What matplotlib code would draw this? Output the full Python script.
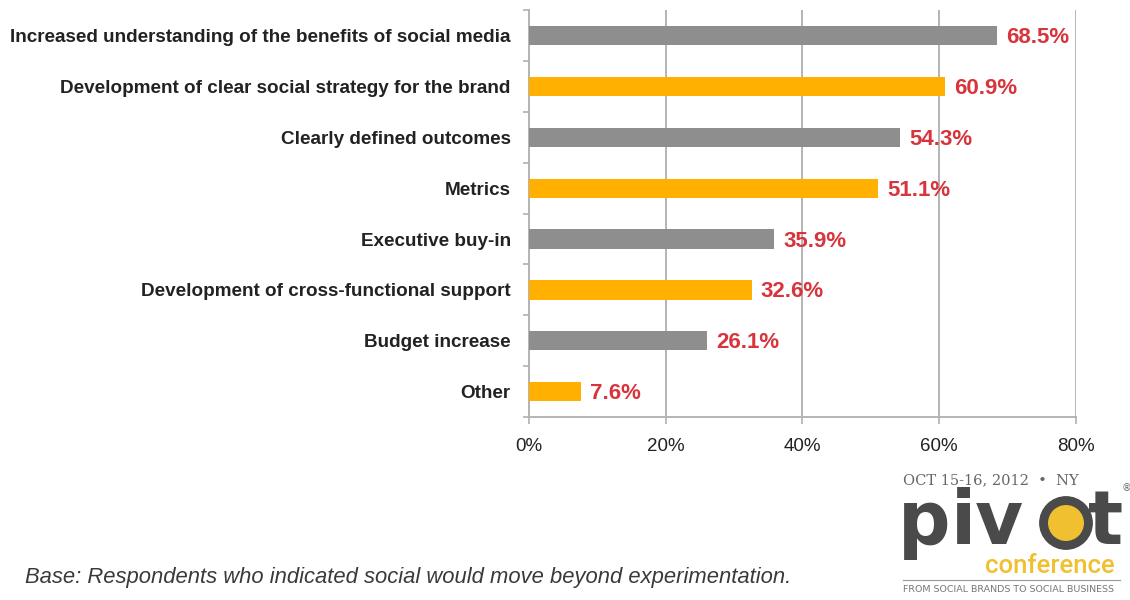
import matplotlib.pyplot as plt
from matplotlib.patches import Circle

categories = [
    "Increased understanding of the benefits of social media",
    "Development of clear social strategy for the brand",
    "Clearly defined outcomes",
    "Metrics",
    "Executive buy-in",
    "Development of cross-functional support",
    "Budget increase",
    "Other",
]
values = [68.5, 60.9, 54.3, 51.1, 35.9, 32.6, 26.1, 7.6]
xticks = [0, 20, 40, 60, 80]
xtick_labels = ["0%", "20%", "40%", "60%", "80%"]

GRAY = "#8e8e8e"
ORANGE = "#ffb000"
RED = "#d8343c"
DARK = "#222222"
FONT = "Liberation Sans"

W, H = 1130, 600
fig = plt.figure(figsize=(W / 100, H / 100), dpi=100)
ax = fig.add_axes([0.468, 0.305, 0.484, 0.678])

ypos = list(range(len(categories)))
colors = [GRAY if i % 2 == 0 else ORANGE for i in ypos]
ax.barh(ypos, values, height=0.38, color=colors, zorder=3)

for y, v in zip(ypos, values):
    ax.text(v + 1.3, y + 0.04, f"{v}%", va="center", ha="left", color=RED,
            fontsize=16, fontweight="bold", family=FONT, zorder=4)

ax.set_xlim(0, 80)
ax.set_ylim(len(categories) - 0.5, -0.5)

ax.set_xticks(xticks)
ax.set_xticklabels(xtick_labels, fontsize=13.5, family=FONT, color=DARK)
ax.set_yticks(ypos)
ax.set_yticklabels(categories, fontsize=13.6, fontweight="bold", family=FONT, color=DARK)
ax.tick_params(axis="y", length=0, pad=13)
ax.tick_params(axis="x", length=5, color="#b0b0b0", width=1.2, pad=10)

# small category separator ticks on the left axis
ax.set_yticks([i - 0.5 for i in range(len(categories) + 1)], minor=True)
ax.tick_params(axis="y", which="minor", length=4, color="#b0b0b0", width=1.2)

ax.grid(axis="x", color="#b4b4b4", linewidth=1.4, zorder=0)
for side in ("top", "right"):
    ax.spines[side].set_visible(False)
for side in ("left", "bottom"):
    ax.spines[side].set_color("#b4b4b4")
    ax.spines[side].set_linewidth(1.4)

fig.text(25 / W, 1 - 577 / H, "Base: Respondents who indicated social would move beyond experimentation.",
         fontsize=15.8, style="italic", color="#3a3a3a", family=FONT, va="center")

# event logo
LOGO_GRAY = "#4a4a4a"
LOGO_YEL = "#f0c030"
fig.text(903 / W, 1 - 480 / H, "OCT 15-16, 2012  \u2022  NY", fontsize=10.5, color="#666666",
         family="DejaVu Serif", va="center")
fig.text(1122 / W, 1 - 488 / H, "\u00ae", fontsize=7, color="#666666", va="center")
logo_kw = dict(fontsize=53, fontweight="bold", color=LOGO_GRAY,
               family="DejaVu Sans", va="baseline")
fig.text(898 / W, 1 - 544 / H, "p", **logo_kw)
fig.text(951 / W, 1 - 544 / H, "iv", **logo_kw)
fig.text(1088 / W, 1 - 544 / H, "t", **logo_kw)
cx, cy, r = 1066, 523, 27
lax = fig.add_axes([(cx - r) / W, 1 - (cy + r) / H, 2 * r / W, 2 * r / H])
lax.set_xlim(-1, 1)
lax.set_ylim(-1, 1)
lax.axis("off")
lax.add_patch(Circle((0, 0), 0.97, color=LOGO_GRAY))
lax.add_patch(Circle((0, 0), 0.64, color=LOGO_YEL))
fig.text(1115 / W, 1 - 573 / H, "conference", fontsize=18.5, color=LOGO_YEL,
         family="Roboto", fontweight="medium", ha="right", va="baseline")
fig.add_artist(plt.Line2D([903 / W, 1120 / W], [1 - 580 / H, 1 - 580 / H],
                          color="#999999", linewidth=0.8))
fig.text(903 / W, 1 - 590 / H, "FROM SOCIAL BRANDS TO SOCIAL BUSINESS", fontsize=6.8,
         color="#777777", family="DejaVu Sans", va="center")

fig.savefig("out.png", dpi=100)
